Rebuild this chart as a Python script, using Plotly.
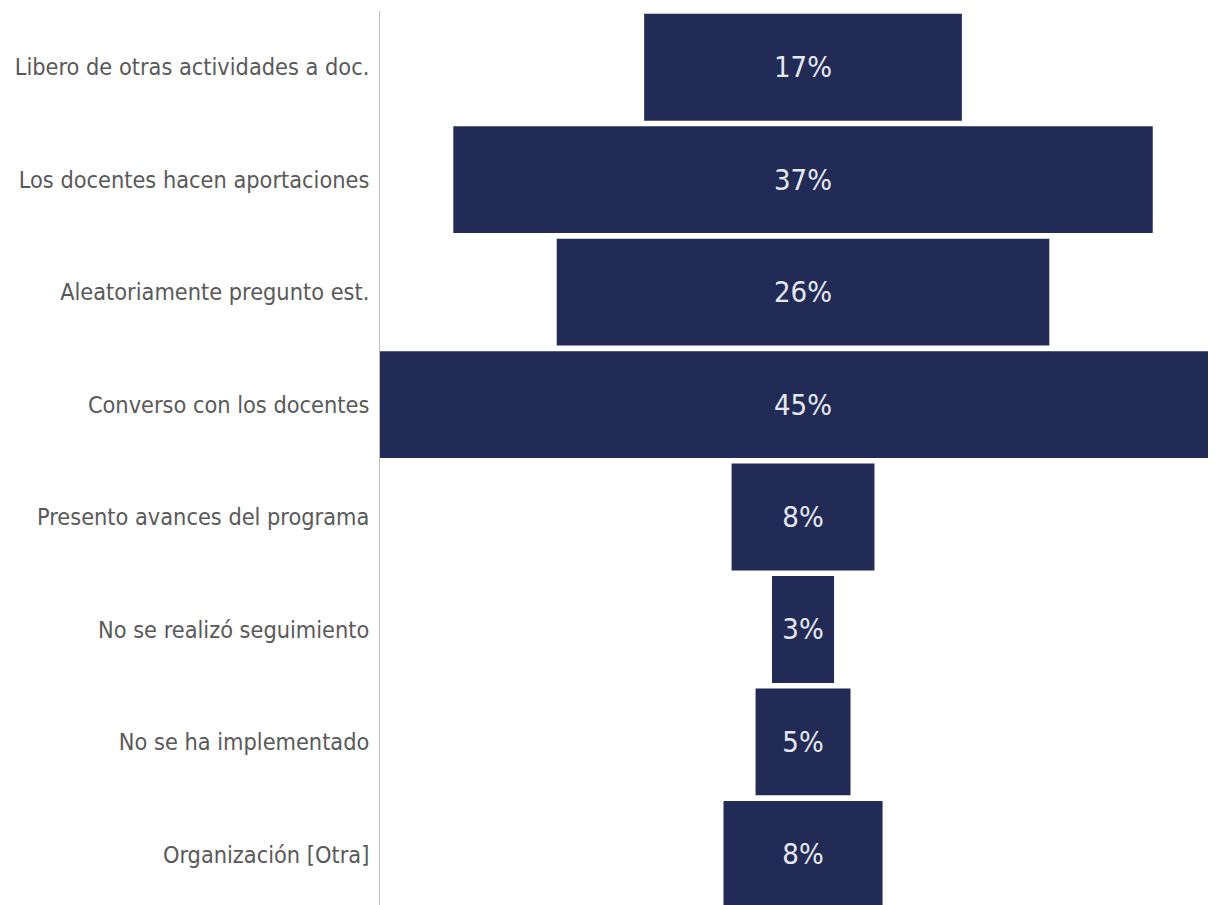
import plotly.graph_objects as go

# Funnel stages, top to bottom
categories = [
    "Libero de otras actividades a doc.",
    "Los docentes hacen aportaciones",
    "Aleatoriamente pregunto est.",
    "Converso con los docentes",
    "Presento avances del programa",
    "No se realizó seguimiento",
    "No se ha implementado",
    "Organización [Otra]",
]

# Shares in percent (labels show rounded values)
percentages = [16.9, 37.2, 26.2, 45.0, 7.6, 3.3, 5.05, 8.46]

FONT = "DejaVu Sans Condensed, Liberation Sans Narrow, Open Sans, sans-serif"

fig = go.Figure(go.Funnel(
    y=categories,
    x=percentages,
    texttemplate="%{x:.0f}%",
    textposition="inside",
    insidetextanchor="middle",
    textfont=dict(family=FONT, size=29, color="#E6E9F2"),
    marker=dict(color="#212B55", line=dict(width=0)),
    connector=dict(visible=False),
    cliponaxis=True,
))

fig.update_layout(
    width=1200,
    height=897,
    margin=dict(l=372, r=0, t=3, b=0),
    paper_bgcolor="white",
    plot_bgcolor="white",
    funnelgap=0.05,
    showlegend=False,
    font=dict(family=FONT, color="#595959"),
)

fig.update_xaxes(range=[-22.5, 21.54], visible=False, showgrid=False,
                 automargin=False)
fig.update_yaxes(
    range=[7.45, -0.5],
    automargin=False,
    showline=True,
    linecolor="#BFBFBF",
    linewidth=1,
    showgrid=False,
    ticks="",
    ticklabelstandoff=5,
    tickfont=dict(family=FONT, size=23.3, color="#595959"),
)

fig.write_html("out.html")
